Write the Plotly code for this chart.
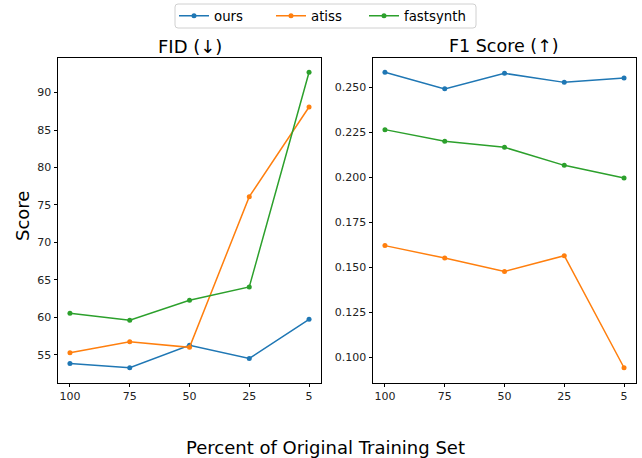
import plotly.graph_objects as go

categories = ["100", "75", "50", "25", "5"]
methods = ["ours", "atiss", "fastsynth"]
colors = ["#1f77b4", "#ff7f0e", "#2ca02c"]

fid_ours = [53.84, 53.26, 56.25, 54.50, 59.72]
fid_atiss = [55.27, 56.74, 55.98, 76.10, 88.07]
fid_fastsynth = [60.52, 59.59, 62.26, 64.05, 92.71]

f1_ours = [0.2582, 0.2490, 0.2576, 0.2526, 0.2550]
f1_atiss = [0.1621, 0.1552, 0.1478, 0.1565, 0.0944]
f1_fastsynth = [0.2264, 0.2199, 0.2166, 0.2066, 0.1996]

fid_ticks = [55, 60, 65, 70, 75, 80, 85, 90]
f1_ticks = [0.100, 0.125, 0.150, 0.175, 0.200, 0.225, 0.250]

W, H = 642, 458
FONT = "DejaVu Sans"

fig = go.Figure()
fid_data = [fid_ours, fid_atiss, fid_fastsynth]
f1_data = [f1_ours, f1_atiss, f1_fastsynth]
legend_ids = ["legend", "legend", "legend2"]
xs = list(range(len(categories)))
for name, col, vals, lg in zip(methods, colors, fid_data, legend_ids):
    fig.add_trace(go.Scatter(x=xs, y=vals, mode="lines+markers", name=name,
                             line=dict(color=col, width=1.5), marker=dict(color=col, size=5),
                             xaxis="x", yaxis="y", legendgroup=name, legend=lg))
for name, col, vals in zip(methods, colors, f1_data):
    fig.add_trace(go.Scatter(x=xs, y=vals, mode="lines+markers", name=name,
                             line=dict(color=col, width=1.5), marker=dict(color=col, size=5),
                             xaxis="x2", yaxis="y2", legendgroup=name, showlegend=False))

def yrange(series):
    lo = min(min(s) for s in series)
    hi = max(max(s) for s in series)
    m = (hi - lo) * 0.05
    return [lo - m, hi + m]

ydom = [75.5 / H, 400.5 / H]
axcommon = dict(showline=True, linecolor="black", linewidth=1, mirror=True,
                ticks="outside", ticklen=3.5, tickwidth=1, tickcolor="black",
                showgrid=False, zeroline=False,
                tickfont=dict(family=FONT, size=11, color="#222"))

# legend frame (rounded rectangle) in paper coordinates
x0, x1, y0, y1, r = 175, 476, 4, 28, 3
def px(x):
    return x / W
def py(y):
    return 1 - y / H
frame = (f"M {px(x0 + r)},{py(y0)} L {px(x1 - r)},{py(y0)} Q {px(x1)},{py(y0)} {px(x1)},{py(y0 + r)} "
         f"L {px(x1)},{py(y1 - r)} Q {px(x1)},{py(y1)} {px(x1 - r)},{py(y1)} "
         f"L {px(x0 + r)},{py(y1)} Q {px(x0)},{py(y1)} {px(x0)},{py(y1 - r)} "
         f"L {px(x0)},{py(y0 + r)} Q {px(x0)},{py(y0)} {px(x0 + r)},{py(y0)} Z")

legfont = dict(family=FONT, size=13.3, color="black")
fig.update_layout(
    width=W, height=H,
    margin=dict(l=0, r=0, t=0, b=0),
    paper_bgcolor="white", plot_bgcolor="white",
    font=dict(family=FONT, color="black"),
    xaxis=dict(domain=[58 / W, 321 / W], range=[-0.2, 4.2], tickvals=xs, ticktext=categories, anchor="y", **axcommon),
    yaxis=dict(domain=ydom, range=yrange(fid_data), tickvals=fid_ticks, anchor="x", **axcommon),
    xaxis2=dict(domain=[373 / W, 636 / W], range=[-0.2, 4.2], tickvals=xs, ticktext=categories, anchor="y2", **axcommon),
    yaxis2=dict(domain=ydom, range=yrange(f1_data), tickvals=f1_ticks, tickformat=".3f", anchor="x2", **axcommon),
    showlegend=True,
    legend=dict(orientation="h", x=174 / W, xanchor="left", y=1 - 16 / H, yanchor="middle",
                borderwidth=0, bgcolor="rgba(0,0,0,0)", font=legfont,
                entrywidth=52, itemwidth=30),
    legend2=dict(orientation="h", x=364 / W, xanchor="left", y=1 - 16 / H, yanchor="middle",
                 borderwidth=0, bgcolor="rgba(0,0,0,0)", font=legfont, itemwidth=30),
    shapes=[dict(type="path", path=frame, xref="paper", yref="paper",
                 line=dict(color="#d0d0d0", width=1), fillcolor="rgba(255,255,255,0.8)", layer="below")],
    annotations=[
        dict(text="FID (↓)", x=(58 + 321) / 2 / W, y=1 - 46 / H, xref="paper", yref="paper",
             showarrow=False, font=dict(family=FONT, size=18, color="black"), xanchor="center", yanchor="middle"),
        dict(text="F1 Score (↑)", x=(373 + 636) / 2 / W, y=1 - 46 / H, xref="paper", yref="paper",
             showarrow=False, font=dict(family=FONT, size=17.5, color="black"), xanchor="center", yanchor="middle"),
        dict(text="Score", x=22 / W, y=1 - 216 / H, xref="paper", yref="paper", textangle=-90,
             showarrow=False, font=dict(family=FONT, size=18, color="black"), xanchor="center", yanchor="middle"),
        dict(text="Percent of Original Training Set", x=326 / W, y=1 - 447 / H, xref="paper", yref="paper",
             showarrow=False, font=dict(family=FONT, size=18, color="black"), xanchor="center", yanchor="middle"),
    ],
)

fig.write_html("out.html")
